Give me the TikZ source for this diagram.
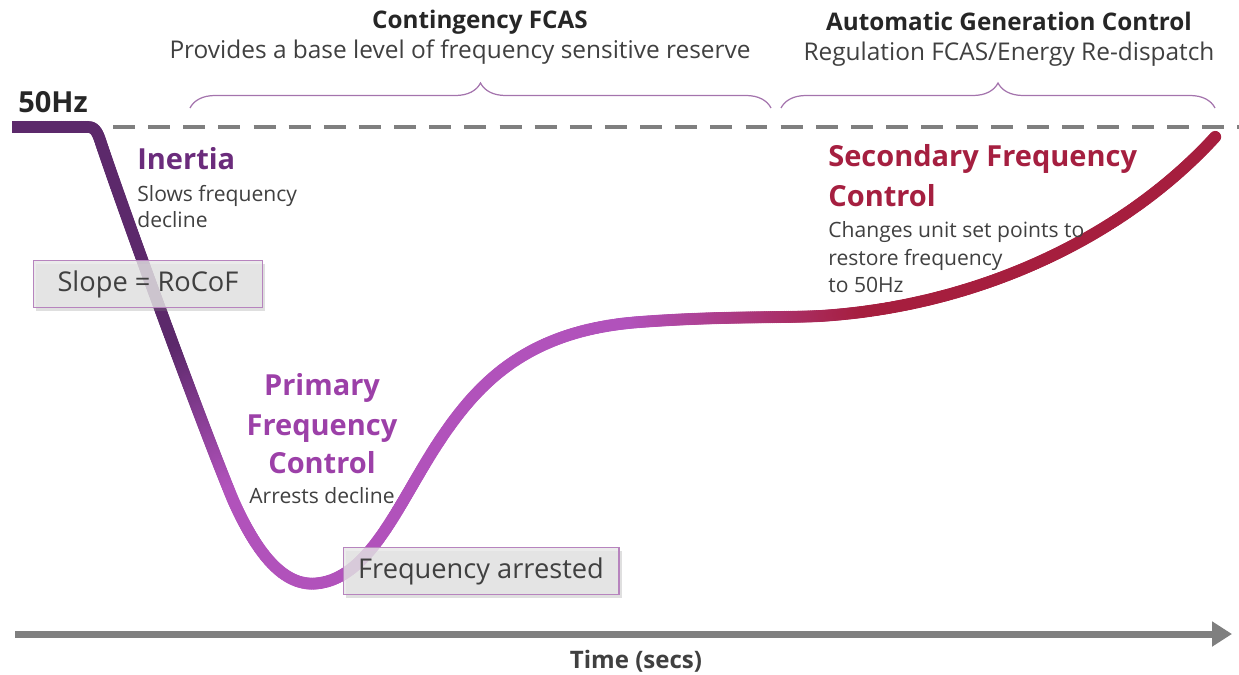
\documentclass[tikz,border=0pt]{standalone}
\usepackage{fontspec}
\setmainfont{Open Sans}
\usetikzlibrary{positioning,arrows.meta,shadows,decorations.pathreplacing,decorations.markings}

\definecolor{inertiacol}{HTML}{5C296B}
\definecolor{primarycol}{HTML}{B152BB}
\definecolor{secondcol}{HTML}{A61E3E}
\definecolor{inertiatxt}{HTML}{6B2C7C}
\definecolor{primarytxt}{HTML}{9C40A8}
\definecolor{secondtxt}{HTML}{A51F40}
\definecolor{bodytxt}{HTML}{404040}
\definecolor{headtxt}{HTML}{262626}
\definecolor{bracecol}{HTML}{A474AD}
\definecolor{axisgrey}{HTML}{7F7F7F}
\definecolor{boxgrey}{HTML}{E6E6E6}
\definecolor{boxedge}{HTML}{B784BE}

\tikzset{
  bodytext/.style={inner sep=0pt, text=bodytxt, font=\fontsize{12}{15}\selectfont},
  headtext/.style={inner sep=0pt, font=\bfseries\fontsize{16.5}{22}\selectfont},
  toptitle/.style={inner sep=0pt, text=headtxt, font=\bfseries\fontsize{13.8}{16}\selectfont},
  topnote/.style={inner sep=0pt, text=bodytxt, font=\fontsize{13.9}{16}\selectfont},
  infobox/.style={draw=boxedge, line width=0.6pt, fill=boxgrey, fill opacity=0.8, text opacity=1,
    text=bodytxt, inner sep=0pt, font=\fontsize{15.5}{18}\selectfont,
    drop shadow={opacity=0.25, shadow xshift=1.5pt, shadow yshift=-2pt}},
  spanbrace/.style={draw=bracecol, line width=0.7pt, decorate, decoration={brace, amplitude=0.5cm}},
  nominal/.style={draw=axisgrey, line width=2.8pt, dash pattern=on 12.5pt off 7.5pt},
  timeaxis/.style={draw=axisgrey, line width=0.14cm, -{Triangle[length=0.4cm, width=0.48cm]}},
  gradcurve/.style={decorate, decoration={markings,
    mark=between positions 0.12cm and 1 step 0.04cm with {
      \pgfmathsetmacro\curvefrac{\pgfkeysvalueof{/pgf/decoration/mark info/distance from start}/\pgfdecoratedpathlength}
      \pgfmathsetmacro\mixa{100*min(max((\curvefrac-0.19)/0.09,0),1)}
      \pgfmathsetmacro\mixb{100*min(max((\curvefrac-0.62)/0.14,0),1)}
      \colorlet{tmpcol}{primarycol!\mixa!inertiacol}
      \colorlet{curvecol}{secondcol!\mixb!tmpcol}
      \fill[curvecol] (0,0) circle (0.12cm);
    }}}
}

\begin{document}
\begin{tikzpicture}[x=0.02cm, y=-0.02cm]
  \useasboundingbox (0,0) rectangle (1239,675);

  % 50 Hz reference and time axis
  \coordinate (n0) at (113,127);
  \coordinate (n1) at (1239,127);
  \draw[nominal] (n0) -- (n1);
  \coordinate (t0) at (15,634);
  \coordinate (t1) at (1232,634);
  \draw[timeaxis] (t0) -- (t1);

  % frequency curve
  \draw[inertiacol, line width=0.24cm] (12,127) -- (20,127);
  \path[gradcurve] (12,127) -- (88,127) .. controls (94,127) and (97,131) .. (100,140)
    .. controls (125,215) and (200,420) .. (233,500)
    .. controls (262,565) and (290,588) .. (320,583)
    .. controls (372,575) and (400,500) .. (440,440)
    .. controls (480,380) and (530,330) .. (640,322)
    .. controls (720,316) and (780,318) .. (820,316)
    .. controls (980,306) and (1125,236) .. (1216,136);

  % braces
  \coordinate (c0) at (190,108);
  \coordinate (c1) at (771,108);
  \coordinate (a0) at (781,108);
  \coordinate (a1) at (1215,108);
  \draw[spanbrace] (c0) -- (c1);
  \draw[spanbrace] (a0) -- (a1);

  \node[toptitle, anchor=base] (cfcas) at (480,29) {Contingency FCAS};
  \node[topnote, anchor=base] (cnote) at (460,59) {Provides a base level of frequency sensitive reserve};
  \node[toptitle, anchor=base] (agc) at (1009,31) {Automatic Generation Control};
  \node[topnote, anchor=base] (agcnote) at (1009,61) {Regulation FCAS/Energy Re-dispatch};

  \node[toptitle, anchor=base west, font=\bfseries\fontsize{16.5}{18}\selectfont] (hz) at (18,113) {50Hz};

  % boxes
  \node[infobox, minimum width=4.58cm, minimum height=0.94cm] (rocof) at (148,284) {Slope = RoCoF};
  \node[infobox, minimum width=5.52cm, minimum height=0.94cm] (arrest) at (481,571) {Frequency arrested};

  % labels
  \foreach \x/\y/\n/\c/\t in {137/170/inertia/inertiatxt/Inertia, 828/167/sfc1/secondtxt/Secondary Frequency, 828/207/sfc2/secondtxt/Control}
    \node[headtext, text=\c, anchor=base west] (\n) at (\x,\y) {\t};
  \foreach \x/\y/\n/\t in {322/395/pfc1/Primary, 322/435/pfc2/Frequency, 322/473/pfc3/Control}
    \node[headtext, text=primarytxt, anchor=base] (\n) at (\x,\y) {\t};
  \foreach \x/\y/\n/\t in {137/202/slows/Slows frequency, 137/228/decline/decline, 828/237/changes/Changes unit set points to, 828/266/restore/restore frequency, 828/293/tofifty/to 50Hz}
    \node[bodytext, anchor=base west] (\n) at (\x,\y) {\t};
  \node[bodytext, anchor=base] (arrests) at (322,503) {Arrests decline};
  \node[toptitle, anchor=base, text=bodytxt, font=\bfseries\fontsize{13.7}{16}\selectfont] (time) at (636,668) {Time (secs)};
\end{tikzpicture}
\end{document}
